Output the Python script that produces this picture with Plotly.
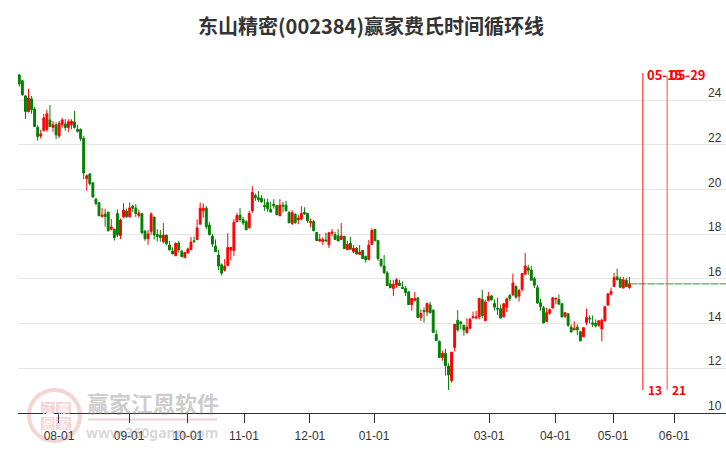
import plotly.graph_objects as go

title_text = "东山精密(002384)赢家费氏时间循环线"

highs = [25.18,24.91,24.24,24.51,24.19,23.70,22.88,22.67,23.39,23.57,
23.79,23.07,23.01,23.07,23.21,23.15,23.15,23.15,23.52,22.90,
22.73,22.39,20.68,20.74,20.33,19.63,19.45,19.17,19.14,19.01,
18.68,18.25,19.11,18.71,19.39,19.15,19.42,19.32,19.35,19.11,
18.96,18.19,18.19,18.99,18.78,18.23,18.19,18.50,17.99,17.70,
17.41,17.64,17.70,17.31,17.22,17.41,17.88,17.89,18.66,19.42,
19.38,19.26,18.56,18.01,17.77,17.30,16.70,16.89,18.05,17.41,
18.68,18.96,19.17,18.78,18.63,19.05,20.15,19.82,19.93,19.75,
19.60,19.60,19.44,19.57,19.30,19.57,19.44,19.49,19.05,19.08,
18.93,18.86,19.26,19.21,18.96,18.71,18.63,18.10,18.01,17.86,
18.07,18.10,18.23,18.10,18.23,18.50,17.93,17.71,17.89,17.52,
17.44,17.52,17.30,17.04,17.74,18.26,18.23,17.74,16.90,17.07,
16.36,15.96,15.96,16.04,15.96,15.88,15.69,15.46,15.13,15.42,
15.18,14.64,14.73,14.93,14.97,14.64,13.70,13.24,12.79,12.87,
12.22,12.72,13.97,14.61,14.12,13.93,14.24,14.27,14.54,14.57,
15.15,15.51,15.06,15.42,15.28,15.08,15.16,14.86,14.93,15.16,
15.33,16.24,15.70,15.56,16.27,17.16,16.64,16.59,16.09,15.73,
15.11,14.79,14.71,14.68,15.16,15.16,15.30,14.90,14.49,14.46,
13.97,14.10,13.97,13.66,13.82,14.67,14.37,14.37,14.19,14.15,
14.22,14.76,15.38,15.61,16.27,16.46,16.09,16.09,16.04,16.09]

lows = [24.61,24.21,23.16,23.45,23.39,22.82,22.19,22.28,22.61,22.60,
22.82,22.58,22.25,22.31,22.78,22.64,22.58,22.70,22.73,22.55,
22.18,20.47,19.94,20.18,19.64,19.30,18.81,18.76,18.34,18.12,
18.19,17.72,17.87,17.78,18.71,18.74,18.74,19.00,18.78,18.74,
18.01,17.71,17.53,17.98,17.76,17.67,17.67,17.59,17.50,17.28,
17.12,17.03,17.18,16.97,16.94,17.15,17.30,17.62,17.74,18.45,
18.74,18.22,17.96,17.44,17.22,16.40,16.15,16.33,16.58,16.85,
17.03,18.56,18.56,18.41,18.19,18.26,18.96,19.49,19.45,19.41,
19.05,19.00,18.96,19.15,18.86,18.81,18.97,19.03,18.51,18.41,
18.48,18.45,18.63,18.86,18.51,18.31,18.13,17.70,17.65,17.52,
17.70,17.38,17.92,17.74,17.70,17.74,17.34,17.30,17.30,17.15,
17.09,17.07,16.89,16.73,16.85,17.52,17.71,16.82,16.52,16.22,
15.69,15.58,15.24,15.61,15.69,15.55,15.24,14.84,14.58,15.01,
14.24,14.12,14.04,14.34,14.46,13.60,13.22,12.46,12.34,11.67,
11.03,11.36,12.75,13.64,13.76,13.46,13.54,13.76,14.21,14.19,
14.19,14.24,14.12,14.99,15.03,14.59,14.39,14.24,14.30,14.52,
15.01,15.23,15.11,14.99,15.44,16.19,16.19,15.94,15.59,14.90,
14.58,14.01,14.06,14.39,14.68,14.86,14.86,14.27,14.25,13.85,
13.60,13.72,13.48,13.21,13.41,13.93,14.01,13.85,13.82,13.85,
13.21,14.12,14.81,15.27,15.66,15.94,15.61,15.59,15.64,15.56]

opens = [25.13,24.87,24.19,23.49,24.06,23.61,22.79,22.40,22.64,22.70,
23.12,22.78,22.90,22.40,22.91,22.94,22.78,22.91,23.03,22.69,
22.70,22.30,20.49,20.70,20.30,19.57,19.41,18.79,18.90,18.99,
18.22,18.22,18.93,17.94,18.78,19.03,18.78,19.26,19.17,18.84,
18.92,18.14,17.80,18.13,18.77,17.99,17.96,17.67,17.96,17.52,
17.25,17.04,17.61,17.24,16.95,17.16,17.31,17.71,17.76,18.45,
19.05,19.17,18.41,17.92,17.47,17.07,16.63,16.39,16.60,17.30,
17.27,18.56,18.86,18.66,18.56,18.29,19.05,19.73,19.64,19.61,
19.30,19.42,19.11,19.35,19.29,18.83,19.30,19.30,18.97,18.48,
18.90,18.65,18.68,18.99,18.93,18.51,18.57,18.08,17.70,17.68,
17.74,17.53,18.04,17.99,17.93,17.77,17.90,17.31,17.59,17.22,
17.37,17.10,17.28,17.01,16.86,17.55,18.22,17.73,16.88,16.58,
16.27,15.78,15.57,15.73,15.82,15.63,15.58,15.42,14.85,15.03,
15.15,14.27,14.58,14.52,14.84,14.60,13.52,13.21,12.48,12.67,
12.10,11.45,12.93,14.15,14.07,13.93,13.60,13.79,14.27,14.25,
14.30,15.09,14.13,15.03,15.24,14.90,14.68,14.67,14.30,14.73,
15.26,15.29,15.67,15.23,15.53,16.21,16.50,16.40,16.01,15.61,
14.93,14.71,14.10,14.47,14.70,15.10,15.08,14.89,14.33,14.44,
13.84,13.72,13.84,13.64,13.41,14.04,14.24,14.04,14.01,13.93,
13.76,14.12,14.83,15.32,15.66,16.09,16.00,15.59,15.94,15.61]

closes = [24.73,24.24,23.49,24.10,23.57,22.82,22.37,22.49,23.21,23.39,
22.82,22.90,22.45,22.97,23.12,22.78,23.03,23.06,22.78,22.61,
22.28,20.74,20.62,20.27,19.67,19.38,18.83,18.86,18.79,18.16,
18.33,17.85,17.97,18.64,19.08,18.78,19.18,19.17,18.93,18.95,
18.07,17.80,18.01,18.90,17.98,17.90,17.85,17.96,17.59,17.30,
17.12,17.59,17.30,17.00,17.18,17.34,17.65,17.67,18.28,19.17,
19.17,18.34,17.98,17.56,17.22,16.58,16.26,16.57,17.41,17.41,
18.54,18.84,18.66,18.51,18.20,18.93,19.87,19.63,19.55,19.45,
19.23,19.14,19.00,19.27,18.87,19.30,19.26,19.05,18.51,18.97,
18.51,18.72,18.93,18.92,18.60,18.57,18.16,17.71,17.77,17.76,
17.70,18.07,18.10,17.77,17.70,17.92,17.36,17.55,17.33,17.38,
17.12,17.21,16.92,16.86,17.52,18.17,17.71,16.91,16.60,16.28,
15.70,15.61,15.76,15.96,15.70,15.57,15.39,14.85,15.13,15.13,
14.28,14.46,14.54,14.91,14.49,13.60,13.24,12.48,12.67,12.12,
11.70,12.72,13.97,13.72,14.00,13.72,13.84,14.19,14.31,14.30,
15.13,14.36,14.97,15.22,15.07,14.74,14.65,14.25,14.89,15.11,
15.13,15.82,15.19,15.48,16.24,16.58,16.39,15.94,15.72,14.92,
14.77,14.03,14.49,14.62,15.16,15.13,14.87,14.30,14.49,13.93,
13.63,13.79,13.72,13.23,13.82,14.28,14.21,13.97,13.90,14.13,
14.15,14.76,15.33,15.44,16.06,15.96,15.63,15.96,15.66,15.78]

day_index = list(range(1, len(highs) + 1))

tick_positions = [13.95, 36.8, 56.0, 74.3, 95.8, 116.7, 154.2, 175.8, 194.7, 214.6]
tick_labels = ["08-01", "09-01", "10-01", "11-01", "12-01", "01-01", "03-01", "04-01", "05-01", "06-01"]

last_price_x = [200, 201, 232]
last_price_y = [15.78, 15.78, 15.78]

cycle_dates = ["05-15", "05-29"]
cycle_counts = ["13", "21"]
cycle_x = [204.4, 212.3]
cycle_top = [25.22, 25.09]
cycle_bottom = [11.03, 11.03]

price_ticks = [10, 12, 14, 16, 18, 20, 22, 24]

L, R, T, B = 18, 726, 60, 413
def fx(px):
    return (px - L) / (R - L)
def fy(py):
    return (B - py) / (B - T)

fig = go.Figure()

fig.add_trace(go.Scatter(x=last_price_x, y=last_price_y, mode="lines",
                         line=dict(color="#2a9a2a", width=1, dash="8px,1px"),
                         hoverinfo="skip", showlegend=False))

fig.add_trace(go.Candlestick(
    x=day_index, open=opens, high=highs, low=lows, close=closes,
    increasing=dict(line=dict(color="#ff0000", width=1), fillcolor="#ff0000"),
    decreasing=dict(line=dict(color="#008000", width=1), fillcolor="#008000"),
    whiskerwidth=0, showlegend=False))

for i in range(2):
    fig.add_trace(go.Scatter(
        x=[cycle_x[i], cycle_x[i]], y=[cycle_bottom[i], cycle_top[i]], mode="lines",
        line=dict(color="#ff0000" if i == 0 else "#ff4a4a", width=1),
        hoverinfo="skip", showlegend=False))

date_font = dict(family="Noto Sans CJK SC", size=13, color="#ff0000", weight="bold")
count_font = dict(family="Noto Sans CJK SC", size=12, color="#ff0000", weight="bold")
date_px_offset = [22, 21]
for i in range(2):
    fig.add_annotation(x=cycle_x[i], y=cycle_top[i], text=cycle_dates[i], showarrow=False,
                       xshift=date_px_offset[i], yshift=-2 if i == 0 else 1,
                       font=date_font, xanchor="center", yanchor="middle")
    fig.add_annotation(x=cycle_x[i], y=cycle_bottom[i], text=cycle_counts[i], showarrow=False,
                       xshift=12, yshift=0, font=count_font, xanchor="center", yanchor="middle")

# price labels sit just above their gridlines at the right edge
for value in price_ticks:
    fig.add_annotation(x=1, xref="paper", y=value, yref="y", text=str(value), showarrow=False,
                       xanchor="right", yanchor="middle", xshift=-2, yshift=7,
                       font=dict(family="Liberation Sans", size=12, color="#333333"))

# faded watermark
ring = "rgba(222,120,120,0.32)"
fig.add_shape(type="circle", xref="paper", yref="paper", layer="below",
              x0=fx(29), x1=fx(80), y0=fy(441), y1=fy(390),
              line=dict(color=ring, width=4), fillcolor="rgba(0,0,0,0)")
seal_cells = [(41, 54.5, 402, 414, "江"), (56, 71, 402, 414, "赢"),
              (41, 54.5, 417, 430, "恩"), (56, 71, 417, 430, "家")]
for x0, x1, y0, y1, ch in seal_cells:
    fig.add_shape(type="rect", xref="paper", yref="paper", layer="below",
                  x0=fx(x0), x1=fx(x1), y0=fy(y1), y1=fy(y0),
                  line=dict(width=0), fillcolor="rgba(222,120,120,0.3)")
    fig.add_annotation(xref="paper", yref="paper", x=fx((x0 + x1) / 2), y=fy((y0 + y1) / 2),
                       text=ch, showarrow=False, xanchor="center", yanchor="middle",
                       font=dict(family="Noto Sans CJK SC", size=12, color="rgba(255,255,255,0.95)"))
fig.add_annotation(xref="paper", yref="paper", x=fx(153), y=fy(402), text="赢家江恩软件",
                   showarrow=False, xanchor="center", yanchor="middle",
                   font=dict(family="Noto Sans CJK SC", size=22, color="rgba(130,130,130,0.42)", weight="bold"))
fig.add_shape(type="line", xref="paper", yref="paper", layer="below",
              x0=fx(88), x1=fx(217), y0=fy(419.5), y1=fy(419.5),
              line=dict(color="rgba(222,150,150,0.45)", width=2))
fig.add_annotation(xref="paper", yref="paper", x=fx(152), y=fy(432), text="www.360gann.com",
                   showarrow=False, xanchor="center", yanchor="middle",
                   font=dict(family="Noto Sans", size=14, color="rgba(130,130,130,0.32)", weight="bold"))

fig.update_layout(
    width=726, height=450, autosize=False,
    margin=dict(l=L, r=726 - R, t=T, b=450 - B, pad=0),
    paper_bgcolor="#ffffff", plot_bgcolor="#ffffff",
    showlegend=False, boxgap=0.12,
    title=dict(text=title_text, x=371 / 726, xanchor="center", y=1 - 27 / 450, yanchor="middle",
               font=dict(family="Noto Sans CJK SC", size=20, color="#333333", weight="bold")),
    xaxis=dict(range=[0.58, 231.5], tickmode="array", tickvals=tick_positions, ticktext=tick_labels,
               rangeslider=dict(visible=False), showgrid=False, showline=True, linecolor="#333333",
               linewidth=1, ticks="outside", ticklen=9, tickcolor="#333333", tickwidth=1,
               ticklabelstandoff=3,
               tickfont=dict(family="Liberation Sans", size=12, color="#333333"), zeroline=False),
    yaxis=dict(range=[10, 25.8], side="right", tickmode="array", tickvals=price_ticks,
               showticklabels=False, showgrid=True, gridcolor="#e6e6e6", gridwidth=1,
               showline=False, zeroline=False, ticks=""),
)

fig.write_html("out.html", config=dict(displayModeBar=False),
               post_script="document.body.style.margin='0';document.body.style.overflow='hidden';")
